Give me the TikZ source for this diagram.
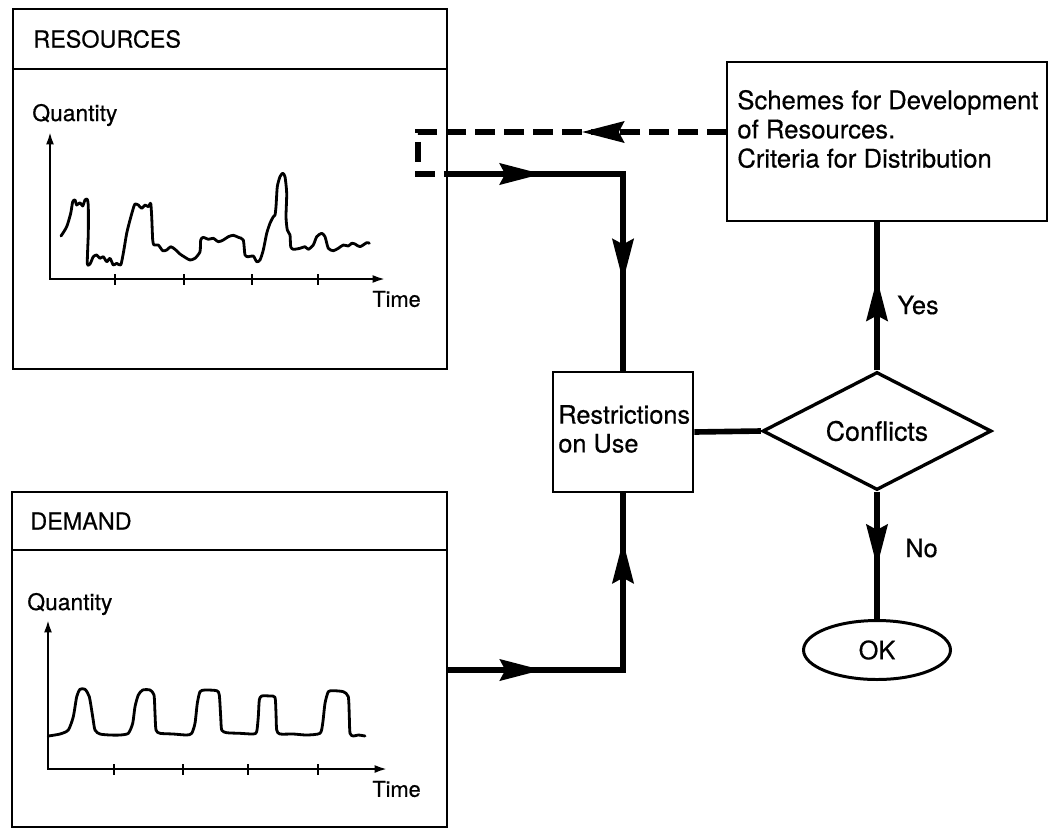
\documentclass[tikz,border=0pt]{standalone}
\usepackage{fontspec}
\setmainfont{TeX Gyre Heros}[FakeBold=0.5]
\usetikzlibrary{arrows.meta,shapes.geometric,decorations.markings}
\tikzset{
  box/.style={draw, rectangle, line width=1.2pt, inner sep=0pt},
  lbl/.style={inner sep=0pt, anchor=west, align=left, font=\fontsize{14.4pt}{16.4pt}\selectfont},
  axlbl/.style={inner sep=0pt, anchor=west, font=\fontsize{13pt}{15pt}\selectfont},
  conn/.style={line width=3.2pt, line join=miter},
  dashconn/.style={line width=2.9pt, dash pattern=on 11.5pt off 5pt},
  curve/.style={line width=1.6pt, line join=round, line cap=round},
  axis/.style={line width=1.2pt},
  flowtip/.tip={Stealth[length=24pt,width=12pt,inset=3pt]},
  axtip/.tip={Latex[length=7pt,width=4.5pt]},
  onearrow/.style={postaction={decorate}, decoration={markings,
      mark=at position #1 with {\arrow{flowtip}}}},
  twoarrows/.style 2 args={postaction={decorate}, decoration={markings,
      mark=at position #1 with {\arrow{flowtip}},
      mark=at position #2 with {\arrow{flowtip}}}}
}
\begin{document}
\begin{tikzpicture}[x=0.02cm,y=-0.02cm]
\useasboundingbox (0,0) rectangle (1057,829);

% ---------- RESOURCES box ----------
\node[box, minimum width=8.68cm, minimum height=7.2cm] (res) at (230,189) {};
\coordinate (resdiv) at (0,69);
\draw[line width=1.2pt] (res.west |- resdiv) -- (res.east |- resdiv);
\node[lbl, font=\fontsize{13.3pt}{15pt}\selectfont] (restitle) at (33,39) {RESOURCES};
\node[axlbl] (resq) at (32,115) {Quantity};
\node[axlbl, font=\fontsize{12.4pt}{14pt}\selectfont] (rest) at (372,299) {Time};
\coordinate (resYtop) at (50,132);
\coordinate (resO) at (50,279);
\coordinate (resXend) at (385,279);
\draw[axis, axtip-axtip] (resYtop) -- (resO) -- (resXend);
\foreach \tx in {115,184,252,318} \draw[axis] (\tx,274) -- (\tx,285);
\draw[curve] plot[smooth, tension=0.4] coordinates {
(61,236) (66.7,226.7) (70.7,213.3) (72.7,201.7) (75,200) (76.7,205) (80,202.7)
(82.7,206) (85,200) (87.3,199.3) (88.3,206.7) (88.3,233.3) (87.3,263.3) (90,264)
(93.3,256.7) (96.7,255) (100,258.3) (103.3,256.7) (106.7,261.7) (110,258.3)
(113.3,265) (116.7,263.3) (120.7,265) (123.3,253.3) (126.7,233.3) (130,220)
(133.3,208.3) (135,204) (138.3,205) (141.7,208.3) (145,205) (148.3,206.7)
(150.7,203.3) (151.7,216.7) (152.7,240) (154,245) (158.3,245) (162.7,250.7)
(166.7,250) (170.7,246.7) (175,249.3) (180,254) (185,257.3) (190,260)
(195,258.3) (200,251.7) (200.7,240) (203.3,237.3) (208.3,239.3) (213.3,238.3)
(218.3,241.7) (223.3,240) (228.3,236.7) (233.3,235.3) (238.3,237.3) (243.3,240)
(245,255) (248.3,256.7) (253.3,256) (256.7,261.7) (260,260) (263.3,250)
(266.7,233.3) (270,223.3) (273.3,216.7) (275,215) (276,206.7) (277.3,186.7)
(280,176.7) (282.7,173.3) (285,176.7) (286.7,193.3) (286,216.7) (287.3,230)
(290,235) (290.7,246.7) (293.3,249.3) (300,248.3) (305,246.7) (308.3,249.3)
(313.3,245) (316.7,236.7) (321.7,233.3) (325,236.7) (328.3,248.3) (333.3,250.7)
(338.3,248.3) (343.3,245) (348.3,246) (351.7,243.3) (355,244) (360,246.7)
(366.7,242.7) (369.3,243.3)};

% ---------- DEMAND box ----------
\node[box, minimum width=8.7cm, minimum height=6.7cm] (dem) at (229.5,659.5) {};
\coordinate (demdiv) at (0,550);
\draw[line width=1.2pt] (dem.west |- demdiv) -- (dem.east |- demdiv);
\node[lbl, font=\fontsize{13.3pt}{15pt}\selectfont] (demtitle) at (30,521) {DEMAND};
\node[axlbl] (demq) at (27,604) {Quantity};
\node[axlbl, font=\fontsize{12.4pt}{14pt}\selectfont] (demt) at (372,789) {Time};
\coordinate (demYtop) at (48,620);
\coordinate (demO) at (48,769);
\coordinate (demXend) at (387,769);
\draw[axis, axtip-axtip] (demYtop) -- (demO) -- (demXend);
\foreach \tx in {114,183,248,318} \draw[axis] (\tx,764) -- (\tx,775);
\draw[curve] plot[smooth, tension=0.4] coordinates {
(48.3,736) (60,734) (68.3,730) (73.3,716.7) (76.7,696.7) (80,689.3) (85,689.3)
(89.3,696.7) (92.7,716.7) (95,730) (100,734) (110,735) (120,735) (128.3,733.3)
(132.7,723.3) (135,706.7) (138.3,695) (142.7,690) (150,690) (154,695)
(155,713.3) (156,730) (160,733.3) (173.3,734) (186.7,735) (191.7,733.3)
(195,723.3) (197.3,703.3) (200,691.7) (205,690) (216.7,690.7) (219.3,695)
(220.7,716.7) (221.7,730) (226.7,732.7) (240,733.3) (253.3,734) (256.7,731.7)
(258.3,716.7) (259.3,700) (261.7,696) (270,696) (275,697.3) (276,713.3)
(276.7,730) (280,734) (293.3,734) (306.7,735) (320,733.3) (322.7,723.3)
(325,703.3) (328.3,691.7) (333.3,690.7) (343.3,691.7) (348.3,696.7)
(349.3,716.7) (350,733.3) (353.3,736) (358.3,735) (365,736)};

% ---------- Restrictions on Use ----------
\node[box, line width=1.5pt, minimum width=2.8cm, minimum height=2.4cm] (restr) at (623,432) {};
\node[lbl] (restrtxt) at (558,429) {Restrictions\\on Use};

% ---------- Schemes box ----------
\node[box, line width=1.5pt, minimum width=6.4cm, minimum height=3.18cm] (sch) at (887,141.5) {};
\node[lbl, font=\fontsize{14.6pt}{16.6pt}\selectfont] (schtxt) at (737,129)
  {Schemes for Development\\of Resources.\\Criteria for Distribution};

% ---------- Conflicts diamond ----------
\node[diamond, draw, line width=1.9pt, aspect=2, inner sep=0pt,
      minimum width=4.58cm, minimum height=2.36cm,
      font=\fontsize{15.2pt}{17pt}\selectfont] (conf) at (877,431) {Conflicts};

% ---------- OK ellipse ----------
\node[ellipse, draw, line width=1.7pt, inner sep=0pt,
      minimum width=2.94cm, minimum height=1.18cm,
      font=\fontsize{14.4pt}{16pt}\selectfont] (ok) at (877,650) {OK};

% ---------- connectors ----------
\coordinate (resOut) at (447,174);
\coordinate (demOut) at (447,670);
\coordinate (schW) at (727,132);
\coordinate (dashX) at (418,132);

\draw[conn, twoarrows={0.255}{0.76}] (resOut) -| (restr.north);
\draw[conn, twoarrows={0.27}{0.865}] (demOut) -| (restr.south);
\draw[conn] (restr.east) -- (conf.west);
\draw[conn, onearrow=0.62] (conf.north) -- (conf.north |- sch.south);
\draw[conn, onearrow=0.59] (conf.south) -- (ok.north);
\draw[dashconn, onearrow=0.382] (schW) -- (dashX) |- (resOut);

\node[lbl] (yes) at (897,305) {Yes};
\node[lbl] (no) at (905,548) {No};
\end{tikzpicture}
\end{document}
